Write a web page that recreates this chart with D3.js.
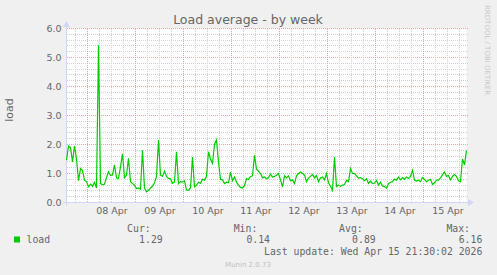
<!DOCTYPE html>
<html><head><meta charset="utf-8">
<script src="https://cdn.jsdelivr.net/npm/d3@7"></script>
<style>
html,body{margin:0;padding:0;background:#F0F0F0;}
svg{display:block;}
text{font-family:"DejaVu Sans",sans-serif;}
.mono{font-family:"DejaVu Sans Mono",monospace;}
</style></head>
<body>
<svg id="chart" width="497" height="275"></svg>
<script>
// ---- data ----
const seriesName = "load";
const startTime = Date.UTC(2026, 3, 7, 13, 30); // Apr 7 13:30
const stepHours = 1;
const loadValues = [
1.46,1.95,1.9,1.4,1.95,1.5,0.75,1.17,1.1,0.77,
0.72,0.54,0.63,0.56,0.7,0.5,5.42,0.65,0.62,0.63,
0.86,1.06,0.94,0.95,1.3,0.85,0.83,1.23,1.68,0.85,
0.95,1.52,0.72,0.65,0.6,0.48,0.5,0.45,1.8,0.5,
0.37,0.42,0.5,0.56,0.68,0.9,2.15,0.94,0.9,1.08,
0.9,0.83,0.82,0.66,0.71,1.75,0.65,0.72,0.7,0.75,
0.43,0.42,0.5,1.57,0.54,0.6,0.7,0.66,0.8,0.77,
0.9,1.75,1.5,1.35,2.0,2.15,1.4,0.8,0.78,0.65,
0.7,0.68,1.05,0.75,0.88,0.7,0.6,0.52,0.5,0.58,
0.82,0.8,0.9,0.92,1.63,1.15,1.08,1.0,0.85,0.88,
0.82,0.85,0.98,0.88,0.9,0.94,1.0,0.78,0.54,0.92,
0.85,0.92,0.75,0.78,0.65,0.92,1.0,1.05,1.0,0.95,
0.72,0.84,0.9,0.97,0.85,0.93,0.72,0.85,0.88,0.78,
1.0,0.68,0.56,0.42,1.57,0.55,0.6,0.56,0.6,0.62,
0.76,0.72,1.17,1.0,1.0,0.92,0.84,0.86,0.82,0.75,
0.82,0.66,0.74,0.65,0.67,0.76,0.6,0.7,0.57,0.55,
0.5,0.65,0.7,0.72,0.8,0.77,0.88,0.78,0.86,0.8,
0.88,0.83,0.9,1.11,0.77,0.74,0.77,0.72,0.86,0.8,
0.72,0.77,0.8,0.62,0.68,0.77,0.77,0.85,0.95,1.05,
0.9,0.93,0.78,0.9,0.96,0.9,0.75,0.72,1.5,1.3,
1.8];
const yTickValues = [0,1,2,3,4,5,6];
const xTickLabels = ["08 Apr","09 Apr","10 Apr","11 Apr","12 Apr","13 Apr","14 Apr","15 Apr"];
const legendHeaders = ["Cur:","Min:","Avg:","Max:"];
const legendValues = ["1.29","0.14","0.89","6.16"];
const titleText = "Load average - by week";
const yLabel = "load";
const lastUpdate = "Last update: Wed Apr 15 21:30:02 2026";
const footer = "Munin 2.0.73";
const sideText = "RRDTOOL / TOBI OETIKER";

// ---- layout ----
const svg = d3.select("#chart");
const L = 66.5, R = 466.5, T = 28.5, B = 202.5;
const t0 = new Date(startTime);
const t1 = new Date(startTime + (loadValues.length - 1) * stepHours * 3600e3);
const x = d3.scaleUtc().domain([t0, t1]).range([L, R]);
const y = d3.scaleLinear().domain([0, 6]).range([B, T]);
const data = loadValues.map((v, i) => ({t: new Date(startTime + i * stepHours * 3600e3), v}));

svg.append("rect").attr("width",497).attr("height",275).attr("fill","#F0F0F0");
svg.append("rect").attr("x",L).attr("y",T).attr("width",R-L).attr("height",B-T).attr("fill","#FFFFFF");

const crisp = v => Math.round(v - 0.5) + 0.5;
const grid = svg.append("g");
// minor horizontal
d3.range(0, 6.001, 0.2).forEach(v => {
  const major = Math.abs(v - Math.round(v)) < 1e-6;
  grid.append("line").attr("x1",L).attr("x2",R+1).attr("y1",crisp(y(v))).attr("y2",crisp(y(v)))
    .attr("stroke", major ? "#E8A8A8" : "#D2D2D2").attr("stroke-dasharray","1,1").attr("shape-rendering","crispEdges");
});
// vertical grid
const minorTimes = d3.utcHour.every(6).range(t0, t1);
minorTimes.forEach(t => {
  const major = t.getUTCHours() === 0;
  grid.append("line").attr("y1",T).attr("y2",B).attr("x1",crisp(x(t))).attr("x2",crisp(x(t)))
    .attr("stroke", major ? "#E8A8A8" : "#D2D2D2").attr("stroke-dasharray","1,1").attr("shape-rendering","crispEdges");
});

// axes lines
const axisColor = "#CFD6F8";
svg.append("line").attr("x1",L).attr("x2",L).attr("y1",26).attr("y2",B+3).attr("stroke",axisColor);
svg.append("line").attr("x1",L-3).attr("x2",470).attr("y1",B).attr("y2",B).attr("stroke",axisColor);
svg.append("path").attr("d",`M${L-3.5},27 L${L},21 L${L+3.5},27 Z`).attr("fill",axisColor);
svg.append("path").attr("d",`M468,${B-3.5} L474,${B} L468,${B+3.5} Z`).attr("fill",axisColor);

// data line
svg.append("path").datum(data)
  .attr("d", d3.line().x(d => x(d.t)).y(d => y(d.v)))
  .attr("fill","none").attr("stroke","#00CC00").attr("stroke-width",1.2);

// y axis labels
const yAxis = d3.axisLeft(y).tickValues(yTickValues).tickFormat(d3.format(".1f")).tickSize(0).tickPadding(0);
const gy = svg.append("g").attr("transform",`translate(${L-5},0)`).call(yAxis);
gy.select(".domain").remove();
gy.selectAll("text").attr("fill","#666666").style("font-size","9.5px").style("font-family","DejaVu Sans");

// x axis labels at noon
const days = d3.utcDay.range(d3.utcDay.ceil(t0), t1);
const noons = days.map(d => new Date(+d + 12*3600e3)).filter(d => d < t1);
const xAxis = d3.axisBottom(x).tickValues(noons).tickFormat((d,i) => xTickLabels[i]).tickSize(0).tickPadding(0);
const gx = svg.append("g").attr("transform",`translate(0,${B+5})`).call(xAxis);
gx.select(".domain").remove();
gx.selectAll("text").attr("fill","#666666").style("font-size","9.5px").style("font-family","DejaVu Sans");

// title
svg.append("text").attr("x",248).attr("y",24).attr("text-anchor","middle")
  .attr("fill","#666666").style("font-size","12.5px").text(titleText);
// y label
svg.append("text").attr("transform","translate(13,110) rotate(-90)").attr("text-anchor","middle")
  .attr("fill","#666666").style("font-size","11px").text(yLabel);
// side text
svg.append("text").attr("transform","translate(485,5) rotate(90)").attr("text-anchor","start")
  .attr("fill","#C8C8C8").style("font-size","7px").text(sideText);

// legend
svg.append("rect").attr("x",14).attr("y",236.5).attr("width",6).attr("height",6).attr("fill","#00CC00");
const lg = svg.append("g").attr("class","mono").attr("fill","#666666").style("font-size","9.8px");
lg.append("text").attr("class","mono").attr("x",26.5).attr("y",243).text(seriesName);
const headerRight = [150.7, 257.3, 362.7, 470];
const valueRight = [162.7, 270, 375.7, 482.3];
legendHeaders.forEach((h,i) => {
  lg.append("text").attr("class","mono").attr("x",headerRight[i]).attr("y",231.5).attr("text-anchor","end").text(h);
  lg.append("text").attr("class","mono").attr("x",valueRight[i]).attr("y",243).attr("text-anchor","end").text(legendValues[i]);
});
lg.append("text").attr("class","mono").attr("x",482.3).attr("y",254.5).attr("text-anchor","end").text(lastUpdate);
svg.append("text").attr("x",248).attr("y",266.5).attr("text-anchor","middle")
  .attr("fill","#C0C0C0").style("font-size","7px").text(footer);
</script>
</body></html>
